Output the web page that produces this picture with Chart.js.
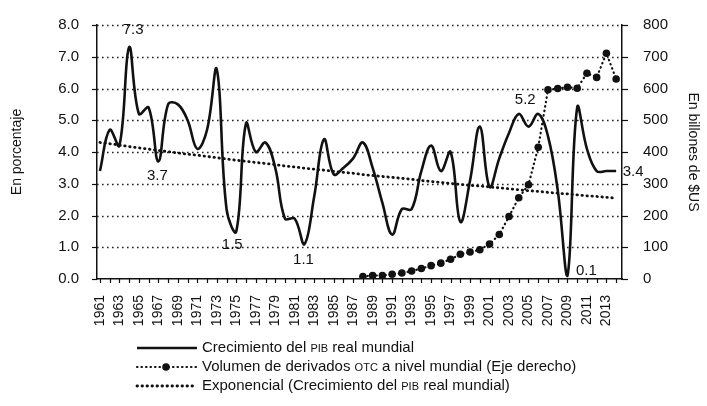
<!DOCTYPE html>
<html>
<head>
<meta charset="utf-8">
<script src="https://cdn.jsdelivr.net/npm/chart.js@4.4.0/dist/chart.umd.min.js"></script>
<style>
  html, body { margin: 0; padding: 0; background: #fff; }
  #wrap { width: 707px; height: 406px; }
</style>
</head>
<body>
<div id="wrap"><canvas id="chart" width="707" height="406"></canvas></div>
<script>
// years shown on the x axis
const years = [
  1961, 1962, 1963, 1964, 1965, 1966, 1967, 1968, 1969, 1970,
  1971, 1972, 1973, 1974, 1975, 1976, 1977, 1978, 1979, 1980,
  1981, 1982, 1983, 1984, 1985, 1986, 1987, 1988, 1989, 1990,
  1991, 1992, 1993, 1994, 1995, 1996, 1997, 1998, 1999, 2000,
  2001, 2002, 2003, 2004, 2005, 2006, 2007, 2008, 2009, 2010,
  2011, 2012, 2013, 2014
];

// Crecimiento del PIB real mundial (%)
const gdpGrowth = [
  3.4, 4.7, 4.2, 7.3, 5.2, 5.4, 3.7, 5.5, 5.5, 5.0,
  4.1, 4.7, 6.6, 2.2, 1.5, 4.9, 4.0, 4.3, 3.5, 1.9,
  1.9, 1.1, 2.6, 4.4, 3.3, 3.5, 3.8, 4.3, 3.5, 2.4,
  1.4, 2.2, 2.2, 3.4, 4.2, 3.4, 4.0, 1.8, 3.1, 4.8,
  2.9, 3.8, 4.6, 5.2, 4.8, 5.2, 4.5, 2.8, 0.1, 5.4,
  4.1, 3.4, 3.4, 3.4
];

// Exponencial (tendencia del PIB)
const gdpTrend = [
  4.30, 4.26, 4.22, 4.17, 4.13, 4.09, 4.05, 4.01, 3.97, 3.93,
  3.90, 3.86, 3.82, 3.78, 3.74, 3.71, 3.67, 3.64, 3.60, 3.56,
  3.53, 3.49, 3.46, 3.43, 3.39, 3.36, 3.33, 3.29, 3.26, 3.23,
  3.20, 3.17, 3.14, 3.10, 3.07, 3.04, 3.01, 2.98, 2.95, 2.93,
  2.90, 2.87, 2.84, 2.81, 2.78, 2.76, 2.73, 2.70, 2.68, 2.65,
  2.62, 2.60, 2.57, 2.55
];

// Volumen de derivados OTC (billones de $US), 1988-2014
const otcYears = [
  1988, 1989, 1990, 1991, 1992, 1993, 1994, 1995, 1996, 1997,
  1998, 1999, 2000, 2001, 2002, 2003, 2004, 2005, 2006, 2007,
  2008, 2009, 2010, 2011, 2012, 2013, 2014
];
const otcVolume = [
  8, 11, 11, 15, 19, 25, 33, 42, 50, 62,
  78, 85, 92, 110, 140, 197, 256, 297, 415, 596,
  600, 604, 601, 648, 635, 711, 630
];

const leftTicks = [0, 1, 2, 3, 4, 5, 6, 7, 8];
const rightTicks = [0, 100, 200, 300, 400, 500, 600, 700, 800];

// values written next to the GDP line
const labelYears = [1964, 1967, 1975, 1982, 2006, 2009, 2014];
const labelOffsets = [[4, -17], [-1, 14], [-4, 13], [-1, 16], [-13, -14], [19, -5], [17, 1]];

const FONT = '"Liberation Sans", Arial, sans-serif';
const INK = '#111';

const legendItems = [
  { kind: 'solid', parts: [['Crecimiento del ', 0], ['PIB', 1], [' real mundial', 0]] },
  { kind: 'dots', parts: [['Volumen de derivados ', 0], ['OTC', 1], [' a nivel mundial (Eje derecho)', 0]] },
  { kind: 'trend', parts: [['Exponencial (Crecimiento del ', 0], ['PIB', 1], [' real mundial)', 0]] }
];

const xy = (xs, ys) => xs.map((x, i) => ({ x, y: ys[i] }));

// dotted grid + short tick marks on the three axes
const axisMarks = {
  id: 'axisMarks',
  beforeDatasetsDraw(chart) {
    const { ctx, chartArea: a, scales } = chart;
    const seg = (x1, y1, x2, y2) => {
      ctx.beginPath();
      ctx.moveTo(x1, y1);
      ctx.lineTo(x2, y2);
      ctx.stroke();
    };
    ctx.save();
    ctx.strokeStyle = '#222';
    ctx.lineWidth = 1.3;
    ctx.setLineDash([1.6, 3.4]);
    leftTicks.forEach(v => {
      if (v === 0) return;
      const y = Math.round(scales.yLeft.getPixelForValue(v)) + 0.5;
      seg(a.left, y, a.right, y);
    });
    ctx.setLineDash([]);
    ctx.strokeStyle = INK;
    ctx.lineWidth = 1.2;
    leftTicks.forEach(v => {
      const y = Math.round(scales.yLeft.getPixelForValue(v)) + 0.5;
      seg(a.left - 5, y, a.left, y);
    });
    rightTicks.forEach(v => {
      const y = Math.round(scales.yRight.getPixelForValue(v)) + 0.5;
      seg(a.right, y, a.right + 6, y);
    });
    years.forEach(v => {
      const x = Math.round(scales.x.getPixelForValue(v)) + 0.5;
      seg(x, a.bottom, x, a.bottom + 4);
    });
    ctx.restore();
  }
};

const valueLabels = {
  id: 'valueLabels',
  afterDatasetsDraw(chart) {
    const meta = chart.getDatasetMeta(2);
    const ctx = chart.ctx;
    ctx.save();
    ctx.font = '15px ' + FONT;
    ctx.fillStyle = INK;
    ctx.textAlign = 'center';
    ctx.textBaseline = 'middle';
    labelYears.forEach((yr, i) => {
      const idx = years.indexOf(yr);
      const pt = meta.data[idx];
      ctx.fillText(gdpGrowth[idx].toFixed(1), pt.x + labelOffsets[i][0], pt.y + labelOffsets[i][1]);
    });
    ctx.restore();
  }
};

const customLegend = {
  id: 'customLegend',
  afterDraw(chart) {
    const ctx = chart.ctx;
    ctx.save();
    const x0 = 137, x1 = 197;
    legendItems.forEach((item, i) => {
      const y = 348 + i * 19;
      ctx.strokeStyle = INK;
      ctx.fillStyle = INK;
      ctx.lineCap = item.kind === 'solid' ? 'butt' : 'round';
      if (item.kind === 'solid') {
        ctx.lineWidth = 2.5;
        ctx.setLineDash([]);
      } else if (item.kind === 'dots') {
        ctx.lineWidth = 2.2;
        ctx.setLineDash([0.5, 4]);
      } else {
        ctx.lineWidth = 2.8;
        ctx.setLineDash([0.5, 4.5]);
      }
      ctx.beginPath();
      ctx.moveTo(x0, y);
      ctx.lineTo(x1, y);
      ctx.stroke();
      if (item.kind === 'dots') {
        ctx.beginPath();
        ctx.arc(166, y, 3.8, 0, Math.PI * 2);
        ctx.fill();
      }
      ctx.setLineDash([]);
      let tx = 202;
      ctx.textBaseline = 'middle';
      item.parts.forEach(([txt, small]) => {
        ctx.font = (small ? '11px ' : '15px ') + FONT;
        ctx.fillText(txt, tx, y + (small ? 1 : 0));
        tx += ctx.measureText(txt).width;
      });
    });
    ctx.restore();
  }
};

new Chart(document.getElementById('chart'), {
  type: 'line',
  data: {
    datasets: [
      {
        label: 'Volumen de derivados OTC a nivel mundial (Eje derecho)',
        data: xy(otcYears, otcVolume),
        yAxisID: 'yRight',
        borderColor: INK,
        backgroundColor: INK,
        borderWidth: 2.2,
        borderDash: [0.5, 4],
        borderCapStyle: 'round',
        pointRadius: 3.8,
        pointBorderWidth: 0,
        tension: 0
      },
      {
        label: 'Exponencial (Crecimiento del PIB real mundial)',
        data: xy(years, gdpTrend),
        yAxisID: 'yLeft',
        borderColor: INK,
        borderWidth: 2.8,
        borderDash: [0.5, 4.5],
        borderCapStyle: 'round',
        pointRadius: 0,
        tension: 0
      },
      {
        label: 'Crecimiento del PIB real mundial',
        data: xy(years, gdpGrowth),
        yAxisID: 'yLeft',
        borderColor: INK,
        borderWidth: 2.6,
        pointRadius: 0,
        tension: 0.4
      }
    ]
  },
  options: {
    responsive: false,
    animation: false,
    devicePixelRatio: 1,
    layout: { padding: { top: 25, left: 0, right: 0, bottom: 0 } },
    plugins: { legend: { display: false }, tooltip: { enabled: false } },
    scales: {
      x: {
        type: 'linear',
        min: 1960.7,
        max: 2014.6,
        afterBuildTicks: s => { s.ticks = years.map(v => ({ value: v })); },
        afterFit: s => { s.height = 127; },
        ticks: {
          autoSkip: false,
          minRotation: 90,
          maxRotation: 90,
          padding: 8,
          color: INK,
          font: { family: FONT, size: 14 },
          callback: v => ((v - 1961) % 2 === 0 ? String(v) : '')
        },
        grid: { display: false },
        border: { color: INK, width: 1.5 }
      },
      yLeft: {
        position: 'left',
        min: 0,
        max: 8,
        afterBuildTicks: s => { s.ticks = leftTicks.map(v => ({ value: v })); },
        afterFit: s => { s.width = 97; },
        ticks: {
          padding: 10,
          color: INK,
          font: { family: FONT, size: 15 },
          callback: v => v.toFixed(1)
        },
        grid: { display: false },
        border: { color: INK, width: 1.5 },
        title: {
          display: true,
          text: 'En porcentaje',
          color: INK,
          font: { family: FONT, size: 14 },
          padding: { top: 9, bottom: 0 }
        }
      },
      yRight: {
        position: 'right',
        min: 0,
        max: 800,
        afterBuildTicks: s => { s.ticks = rightTicks.map(v => ({ value: v })); },
        afterFit: s => { s.width = 85; },
        ticks: {
          padding: 13,
          color: INK,
          font: { family: FONT, size: 15 },
          callback: v => String(v)
        },
        grid: { display: false },
        border: { color: INK, width: 1.5 },
        title: {
          display: true,
          text: 'En billones de $US',
          color: INK,
          font: { family: FONT, size: 14 },
          padding: { top: 6, bottom: 0 }
        }
      }
    }
  },
  plugins: [axisMarks, valueLabels, customLegend]
});
</script>
</body>
</html>
